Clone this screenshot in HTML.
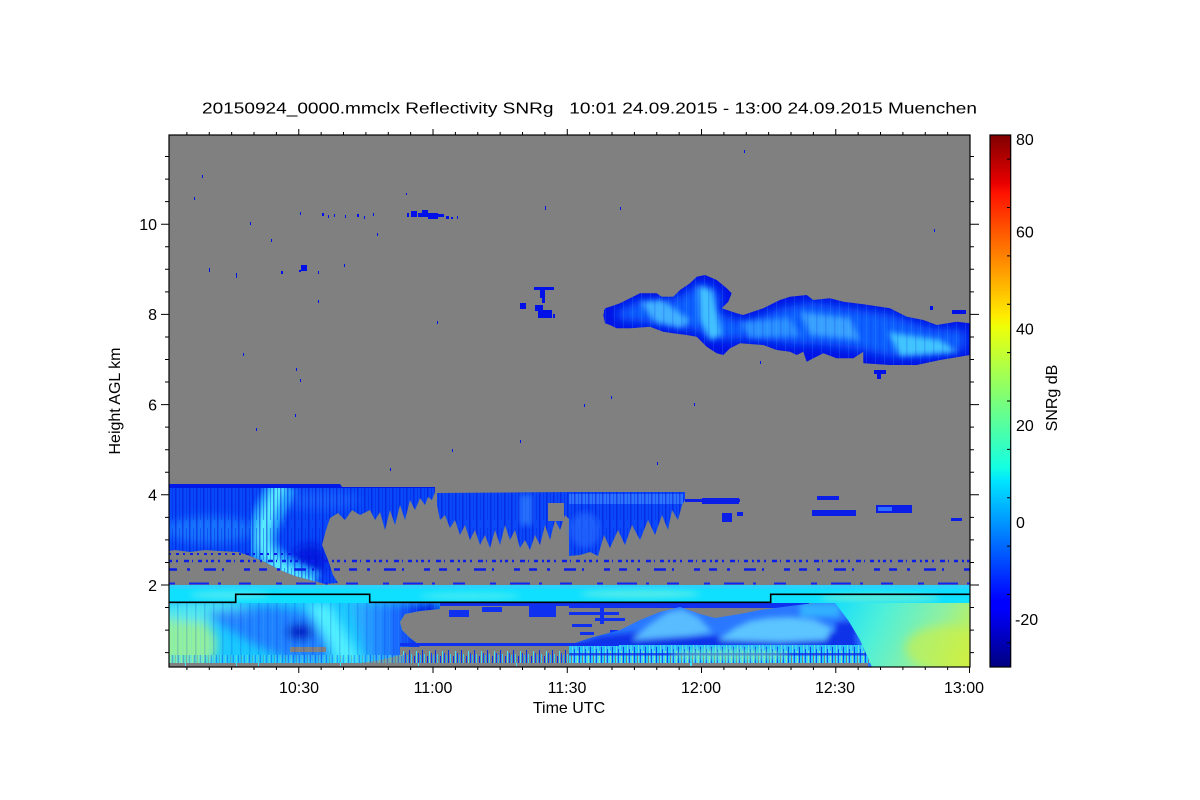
<!DOCTYPE html>
<html><head><meta charset="utf-8"><style>
html,body{margin:0;padding:0;background:#fff;width:1200px;height:800px;overflow:hidden}
svg{display:block}
text{font-family:"Liberation Sans",Arial,sans-serif;font-size:16px;fill:#000}
</style></head><body>
<svg width="1200" height="800" viewBox="0 0 1200 800" xmlns="http://www.w3.org/2000/svg">
<defs>
<linearGradient id="jet" x1="0" y1="1" x2="0" y2="0">
<stop offset="0" stop-color="#000080"/><stop offset="0.11" stop-color="#0000ff"/><stop offset="0.125" stop-color="#0000ff"/>
<stop offset="0.34" stop-color="#00dbff"/><stop offset="0.35" stop-color="#00e5ff"/><stop offset="0.375" stop-color="#14ffe2"/>
<stop offset="0.5" stop-color="#7aff7a"/><stop offset="0.64" stop-color="#eeff08"/><stop offset="0.66" stop-color="#ffec00"/>
<stop offset="0.89" stop-color="#ff1300"/><stop offset="0.91" stop-color="#e80000"/><stop offset="1" stop-color="#800000"/>
</linearGradient>
<linearGradient id="lr" gradientUnits="userSpaceOnUse" x1="340" y1="0" x2="425" y2="0">
<stop offset="0" stop-color="#30c8ff"/><stop offset="0.65" stop-color="#1a70ff"/><stop offset="1" stop-color="#0018e0"/>
</linearGradient>
<linearGradient id="rf" gradientUnits="userSpaceOnUse" x1="830" y1="600" x2="970" y2="667">
<stop offset="0" stop-color="#10dcff"/><stop offset="0.35" stop-color="#50f0d8"/><stop offset="0.7" stop-color="#90f0a0"/><stop offset="1" stop-color="#d0f040"/>
</linearGradient>
<clipPath id="plot"><rect x="169" y="135" width="801" height="532"/></clipPath>
<clipPath id="ci"><polygon points="605,308.3 610,306.7 620,303.3 630,298.3 640,293.3 656.7,293.3 661.7,296.7 673.3,296.7 680,290 690,283.3 696.7,276.7 705,275 716.7,280 726.7,288.3 731.7,293.3 728.3,301.7 721.7,308.3 736.7,313.3 743.3,315 763.3,308.3 780,300 790,296.7 806.7,295 813.3,300 830,298.3 843.3,301.7 863.3,304.3 880,306.7 890,308.3 906.7,316.7 923.3,320 936.7,325 956.7,321.7 970,323.3 970,355 940,360 916.7,365 890,365 863.3,363.3 863.3,351.7 853.3,358.3 836.7,358.3 823.3,353.3 813.3,358.3 806.7,361.7 803.3,351.7 796.7,355 790,351.7 776.7,350 763.3,345 740,343.3 730,348.3 723.3,355 716.7,353.3 706.7,346.7 696.7,336.7 686.7,335 673.3,333.3 663.3,331.7 650,326.7 630,328.3 616.7,328.3 610,325 605,323.3 603.3,315"/></clipPath>
<clipPath id="ll"><polygon points="169,603 440,603 440,609 420,611 405,614 400,622 402,630 410,638 418,644 420,648 400,655 380,660 360,663 169,663"/></clipPath>
<clipPath id="lm"><polygon points="569,645 590,638 620,630 640,620 660,612 680,607 700,614 715,618 740,614 760,610 790,606 815,603 835,603 848,620 860,640 872,667 569,667"/></clipPath>
<clipPath id="ca"><polygon points="169,484 340,484 342,487 435,487 435,492 432,500 428,497 425,505 420,498 415,510 410,500 405,520 400,505 395,525 390,510 385,530 380,512 375,520 370,510 360,515 352,510 345,520 338,513 330,518 326,530 322,545 328,560 333,575 338,583 325,584 310,580 295,576 280,570 265,562 250,556 238,552 220,551 205,550 190,552 175,550 169,551"/></clipPath>
<filter id="b2" x="-20%" y="-20%" width="140%" height="140%"><feGaussianBlur stdDeviation="2"/></filter>
<filter id="b3" x="-20%" y="-20%" width="140%" height="140%"><feGaussianBlur stdDeviation="3"/></filter>
<filter id="b5" x="-20%" y="-20%" width="140%" height="140%"><feGaussianBlur stdDeviation="5"/></filter>
<pattern id="st" width="7" height="40" patternUnits="userSpaceOnUse">
<rect x="0" y="0" width="1.5" height="40" fill="#0008d0" opacity=".45"/><rect x="4" y="8" width="1" height="32" fill="#0018e0" opacity=".35"/>
</pattern>
<pattern id="st2" width="9" height="30" patternUnits="userSpaceOnUse">
<rect x="2" y="0" width="1" height="30" fill="#60c0ff" opacity=".5"/><rect x="6" y="0" width="1.5" height="30" fill="#0010d8" opacity=".5"/>
</pattern>
<pattern id="sp" width="13" height="16" patternUnits="userSpaceOnUse" x="0" y="647">
<rect x="0" y="0" width="13" height="16" fill="#808080"/>
<rect x="0" y="4" width="1" height="12" fill="#40e0ff"/><rect x="2" y="6" width="1" height="10" fill="#1040ff"/>
<rect x="4" y="8" width="1" height="8" fill="#20b8ff"/>
<rect x="6" y="3" width="1" height="13" fill="#0030f0"/><rect x="8" y="7" width="1" height="9" fill="#30d0ff"/>
<rect x="11" y="9" width="1" height="7" fill="#0a2cf0"/>
</pattern>
<pattern id="sp2" width="11" height="18" patternUnits="userSpaceOnUse" x="0" y="645">
<rect x="0" y="0" width="11" height="18" fill="#30c0ff"/>
<rect x="0" y="0" width="1" height="18" fill="#60f0e0"/><rect x="2" y="4" width="1" height="14" fill="#1050ff"/>
<rect x="3" y="0" width="2" height="18" fill="#40e0ff"/><rect x="5" y="6" width="1" height="12" fill="#90f0a0"/>
<rect x="7" y="2" width="1" height="16" fill="#0a40f0"/><rect x="8" y="0" width="2" height="18" fill="#20d8ff"/>
<rect x="10" y="8" width="1" height="10" fill="#808080"/>
</pattern>
</defs>

<rect x="0" y="0" width="1200" height="800" fill="#fff"/>
<rect x="169" y="135" width="801" height="532" fill="#808080"/>

<g clip-path="url(#plot)">
<g fill="#0010e8">
<rect x="202" y="175" width="1" height="3"/><rect x="194" y="197" width="1" height="3"/>
<rect x="250" y="222" width="1" height="3"/><rect x="271" y="239" width="1" height="3"/>
<rect x="300" y="212" width="1" height="3"/><rect x="322" y="213" width="2" height="3"/><rect x="328" y="215" width="1" height="3"/>
<rect x="334" y="214" width="1" height="3"/><rect x="345" y="215" width="1" height="3"/><rect x="357" y="214" width="2" height="3"/>
<rect x="364" y="216" width="1" height="3"/><rect x="373" y="213" width="1" height="3"/>
<rect x="407" y="213" width="2" height="4"/><rect x="411" y="211" width="6" height="6"/><rect x="418" y="213" width="4" height="4"/>
<rect x="422" y="210" width="6" height="7"/><rect x="428" y="213" width="10" height="6"/><rect x="438" y="214" width="6" height="3"/>
<rect x="446" y="216" width="3" height="3"/><rect x="451" y="217" width="2" height="2"/><rect x="457" y="216" width="1" height="3"/>
<rect x="406" y="193" width="1" height="2"/><rect x="545" y="206" width="1" height="4"/>
<rect x="209" y="268" width="1" height="4"/><rect x="236" y="273" width="1" height="5"/><rect x="281" y="271" width="2" height="3"/>
<rect x="301" y="265" width="6" height="6"/><rect x="299" y="270" width="2" height="2"/><rect x="318" y="271" width="1" height="3"/>
<rect x="344" y="264" width="1" height="3"/><rect x="318" y="300" width="1" height="3"/><rect x="377" y="233" width="1" height="3"/>
<rect x="534" y="287" width="20" height="3"/><rect x="540" y="290" width="5" height="8"/><rect x="542" y="298" width="3" height="5"/>
<rect x="520" y="303" width="6" height="6"/><rect x="535" y="305" width="8" height="6"/><rect x="538" y="310" width="14" height="8"/>
<rect x="553" y="314" width="2" height="4"/><rect x="437" y="321" width="1" height="3"/><rect x="243" y="353" width="1" height="3"/>
<rect x="296" y="368" width="1" height="3"/><rect x="300" y="379" width="1" height="3"/><rect x="295" y="414" width="1" height="3"/>
<rect x="256" y="428" width="1" height="3"/><rect x="452" y="449" width="1" height="3"/><rect x="584" y="404" width="1" height="3"/>
<rect x="620" y="207" width="1" height="3"/><rect x="744" y="150" width="1" height="3"/><rect x="934" y="229" width="1" height="3"/>
<rect x="760" y="361" width="1" height="3"/><rect x="806" y="342" width="2" height="3"/><rect x="874" y="370" width="12" height="4"/>
<rect x="877" y="374" width="4" height="5"/><rect x="611" y="396" width="1" height="3"/><rect x="694" y="403" width="1" height="3"/>
<rect x="520" y="440" width="1" height="3"/><rect x="657" y="462" width="1" height="3"/><rect x="390" y="468" width="1" height="3"/>
<rect x="604" y="310" width="1" height="4"/><rect x="952" y="310" width="14" height="4"/><rect x="930" y="306" width="3" height="4"/>
</g>

<g clip-path="url(#ci)">
<rect x="600" y="270" width="372" height="100" fill="#0012e6"/>
<polygon filter="url(#b5)" fill="#0a60ff" points="615,312 640,300 660,302 680,296 700,283 715,288 722,300 715,312 745,322 780,308 810,302 850,308 890,314 930,328 965,330 965,350 930,356 890,357 860,350 820,345 790,344 750,338 725,340 710,338 695,330 660,325 620,320"/>
<g filter="url(#b3)">
<polygon fill="#40b0ff" points="640,302 662,300 690,320 682,328 655,322"/>
<polygon fill="#40c0ff" points="698,286 712,290 722,335 710,340 700,320"/>
<polygon fill="#38a0ff" points="800,312 850,318 860,340 810,335"/>
<polygon fill="#40c4ff" points="888,332 940,340 958,352 900,356"/>
<polygon fill="#2a90ff" points="740,322 790,318 800,336 750,338"/>
</g>
<rect x="600" y="270" width="372" height="100" fill="url(#st2)" opacity=".3"/>
</g>

<g clip-path="url(#ca)">
<rect x="169" y="480" width="270" height="110" fill="#0848f8"/>
<g filter="url(#b5)">
<ellipse cx="210" cy="530" rx="45" ry="14" fill="#1a84ff" opacity=".7"/>
<ellipse cx="320" cy="500" rx="40" ry="10" fill="#2070ff" opacity=".6"/>
<ellipse cx="310" cy="560" rx="18" ry="16" fill="#0014d8" opacity=".8"/>
</g>
<g filter="url(#b3)">
<path d="M282,484 C272,510 256,532 264,550 S292,574 314,586" stroke="#28a8ff" stroke-width="30" fill="none"/>
<path d="M280,484 C270,510 258,532 266,550 S292,574 312,586" stroke="#58ecff" stroke-width="12" fill="none"/>
</g>
<rect x="169" y="484" width="270" height="100" fill="url(#st)"/>
<rect x="169" y="484" width="270" height="4" fill="#0018e8"/>
</g>

<polygon fill="#0a48f8" points="437,493 570,492 570,520 565,515 560,530 555,520 550,540 545,525 540,545 535,535 530,550 525,540 520,548 515,530 510,540 505,525 500,545 495,530 490,548 485,535 480,545 475,530 470,540 465,525 460,535 455,520 450,528 445,515 440,520 437,505"/>
<polygon fill="url(#st)" points="437,493 570,492 570,520 565,515 560,530 555,520 550,540 545,525 540,545 535,535 530,550 525,540 520,548 515,530 510,540 505,525 500,545 495,530 490,548 485,535 480,545 475,530 470,540 465,525 460,535 455,520 450,528 445,515 440,520 437,505"/>
<rect x="520" y="495" width="12" height="30" fill="#3a90ff" opacity=".6" filter="url(#b3)"/>
<rect x="548" y="503" width="16" height="18" fill="#808080"/>
<polygon fill="#0a48f8" points="569,492 685,492 685,500 682,505 678,520 672,510 668,530 662,515 655,535 648,520 640,540 632,525 625,545 618,530 610,548 604,535 598,556 590,552 580,555 569,556"/>
<rect x="569" y="494" width="114" height="10" fill="#3a88ff" opacity=".7"/>
<polygon fill="url(#st)" points="569,492 685,492 685,500 682,505 678,520 672,510 668,530 662,515 655,535 648,520 640,540 632,525 625,545 618,530 610,548 604,535 598,556 590,552 580,555 569,556"/>
<ellipse cx="585" cy="530" rx="15" ry="18" fill="#2a70ff" opacity=".6" filter="url(#b3)"/>

<g fill="#0a1ee8">
<rect x="685" y="499" width="55" height="3"/><rect x="702" y="498" width="37" height="6"/><rect x="722" y="513" width="10" height="9"/>
<rect x="817" y="496" width="22" height="4"/><rect x="812" y="510" width="44" height="6"/><rect x="876" y="505" width="36" height="8"/>
<rect x="951" y="518" width="11" height="3"/><rect x="737" y="512" width="6" height="4"/>
</g>
<rect x="878" y="507" width="14" height="4" fill="#3070ff"/>

<line x1="169" y1="561" x2="970" y2="561" stroke="#0a1ee8" stroke-width="2.5" stroke-dasharray="3 4 2 6 5 3 1 5 4 4 2 3"/>
<line x1="169" y1="569.5" x2="970" y2="569.5" stroke="#0a1ee8" stroke-width="2.5" stroke-dasharray="8 10 3 14 12 6 2 20 6 9"/>
<line x1="169" y1="554" x2="320" y2="554" stroke="#0a1ee8" stroke-width="2" stroke-dasharray="2 5 3 4"/>
<line x1="169" y1="583.5" x2="970" y2="583.5" stroke="#1028f0" stroke-width="2" stroke-dasharray="6 14 20 9 3 18 12 25"/>

<rect x="169" y="585" width="801" height="18" fill="#10e0ff"/>
<rect x="169" y="585" width="801" height="4" fill="#28d4ff"/>
<g filter="url(#b3)" opacity=".7">
<ellipse cx="230" cy="595" rx="40" ry="4" fill="#60ecf0"/>
<ellipse cx="470" cy="596" rx="50" ry="4" fill="#50eef0"/>
<ellipse cx="640" cy="594" rx="60" ry="4" fill="#70f0e0"/>
<ellipse cx="880" cy="598" rx="60" ry="5" fill="#70f0d0"/>
</g>

<g clip-path="url(#ll)">
<rect x="169" y="600" width="275" height="66" fill="#18c8ff"/>
<g filter="url(#b5)">
<ellipse cx="182" cy="645" rx="35" ry="30" fill="#90f0a0"/>
<ellipse cx="205" cy="612" rx="50" ry="10" fill="#50e8f0"/>
<polygon fill="#2070ff" opacity=".8" points="205,612 270,606 310,612 330,648 325,663 290,660 255,645 222,625"/>
<ellipse cx="300" cy="632" rx="13" ry="8" fill="#0010c0"/>
<polygon fill="#50f0ff" points="306,604 330,604 362,663 338,663"/>
<polygon fill="url(#lr)" points="350,603 440,603 440,663 368,663"/>
</g>
<rect x="290" y="647" width="36" height="5" fill="#808080"/>
<rect x="169" y="603" width="275" height="60" fill="url(#st2)" opacity=".3"/>
</g>

<g fill="#1030f0">
<rect x="440" y="603" width="130" height="3"/><rect x="569" y="603" width="240" height="5"/>
<rect x="449" y="610" width="20" height="7"/><rect x="482" y="607" width="20" height="5"/><rect x="529" y="605" width="27" height="12"/>
<rect x="569" y="612" width="50" height="3"/><rect x="595" y="618" width="30" height="3"/><rect x="600" y="606" width="4" height="18"/>
<rect x="572" y="624" width="20" height="3"/><rect x="580" y="632" width="14" height="3"/><rect x="610" y="630" width="8" height="4"/>
</g>

<!-- right field -->
<polygon fill="url(#rf)" points="812,603 970,603 970,667 872,667 866,658 858,648 850,636 842,626 833,616 822,608"/>
<ellipse cx="945" cy="648" rx="40" ry="22" fill="#d0f040" opacity=".6" filter="url(#b5)"/>

<g clip-path="url(#lm)">
<rect x="569" y="603" width="310" height="64" fill="#2a78ff"/>
<g filter="url(#b3)">
<polygon fill="#0a30e8" points="569,645 600,636 640,632 700,636 760,636 830,632 850,636 862,652 569,652"/>
<polygon fill="#58bcff" points="632,640 650,624 668,612 682,609 698,617 712,632 690,636 660,638"/>
<polygon fill="#5cc4ff" points="718,640 735,628 750,621 768,618 790,617 815,620 832,628 826,640 780,642"/>
<rect x="836" y="622" width="20" height="30" fill="#1030e8"/>
<rect x="800" y="603" width="40" height="14" fill="#30b0ff"/>
</g>
<rect x="569" y="645" width="310" height="18" fill="url(#sp2)" opacity=".9"/>
<rect x="569" y="653" width="300" height="2.5" fill="#0a28e8" opacity=".75"/>
<ellipse cx="730" cy="655" rx="60" ry="6" fill="#80f0b0" opacity=".5" filter="url(#b3)"/>
</g>

<rect x="400" y="643" width="170" height="3" fill="#1030f0"/>
<rect x="569" y="643" width="50" height="3" fill="#1030f0"/>
<rect x="400" y="647" width="169" height="16" fill="url(#sp)"/>
<rect x="169" y="655" width="235" height="8" fill="url(#sp2)" opacity=".4"/>
<rect x="169" y="663" width="699" height="4" fill="#808080"/>
<g fill="#40e0ff"><rect x="185" y="663" width="1" height="3"/><rect x="236" y="663" width="1" height="3"/><rect x="258" y="663" width="1" height="3"/><rect x="340" y="663" width="1" height="3"/><rect x="418" y="663" width="1" height="3"/><rect x="516" y="663" width="1" height="3"/><rect x="690" y="663" width="2" height="3"/></g>

<path d="M169,602.3 H235.7 V594.3 H369.7 V602.3 H770.7 V594.3 H970" stroke="#000" stroke-width="1.6" fill="none"/>
</g>

<rect x="169" y="135" width="801" height="532" fill="none" stroke="#000" stroke-width="1.2"/>

<g stroke="#000" stroke-width="1" fill="none">
<path d="M186.9,135V132M209.27,135V132M231.65,135V132M254.02,135V132M276.4,135V132M298.77,135V129M321.15,135V132M343.52,135V132M365.9,135V132M388.27,135V132M410.65,135V132M433.02,135V129M455.4,135V132M477.77,135V132M500.15,135V132M522.52,135V132M544.9,135V132M567.27,135V129M589.65,135V132M612.02,135V132M634.4,135V132M656.77,135V132M679.15,135V132M701.52,135V129M723.9,135V132M746.27,135V132M768.65,135V132M791.02,135V132M813.4,135V132M835.77,135V129M858.15,135V132M880.52,135V132M902.9,135V132M925.27,135V132M947.65,135V132"/>
<path d="M186.9,667V670M209.27,667V670M231.65,667V670M254.02,667V670M276.4,667V670M298.77,667V673M321.15,667V670M343.52,667V670M365.9,667V670M388.27,667V670M410.65,667V670M433.02,667V673M455.4,667V670M477.77,667V670M500.15,667V670M522.52,667V670M544.9,667V670M567.27,667V673M589.65,667V670M612.02,667V670M634.4,667V670M656.77,667V670M679.15,667V670M701.52,667V673M723.9,667V670M746.27,667V670M768.65,667V670M791.02,667V670M813.4,667V670M835.77,667V673M858.15,667V670M880.52,667V670M902.9,667V670M925.27,667V670M947.65,667V670M969.5,667V673"/>
<path d="M165,652.65H169M165,630.1H169M165,607.55H169M161,585H169M165,562.45H169M165,539.9H169M165,517.35H169M161,494.8H169M165,472.25H169M165,449.7H169M165,427.15H169M161,404.6H169M165,382.05H169M165,359.5H169M165,336.95H169M161,314.4H169M165,291.85H169M165,269.3H169M165,246.75H169M161,224.2H169M165,201.65H169M165,179.1H169M165,156.55H169"/>
<path d="M970,652.65H974M970,630.1H974M970,607.55H974M970,585H979M970,562.45H974M970,539.9H974M970,517.35H974M970,494.8H979M970,472.25H974M970,449.7H974M970,427.15H974M970,404.6H979M970,382.05H974M970,359.5H974M970,336.95H974M970,314.4H979M970,291.85H974M970,269.3H974M970,246.75H974M970,224.2H979M970,201.65H974M970,179.1H974M970,156.55H974"/>
</g>

<g text-anchor="end">
<text x="157" y="590.8">2</text><text x="157" y="500.6">4</text><text x="157" y="410.4">6</text><text x="157" y="320.2">8</text><text x="157" y="230">10</text>
</g>
<g text-anchor="middle">
<text x="299" y="693">10:30</text><text x="433" y="693">11:00</text><text x="567" y="693">11:30</text><text x="701" y="693">12:00</text><text x="835" y="693">12:30</text><text x="964" y="693">13:00</text>
<text x="569" y="713">Time UTC</text>
<text transform="translate(120,401) rotate(-90)">Height AGL km</text>
<text transform="translate(1057,398) rotate(-90)">SNRg dB</text>
</g>
<text x="202" y="113.5" textLength="775" lengthAdjust="spacingAndGlyphs">20150924_0000.mmclx Reflectivity SNRg&#160;&#160;&#160;10:01 24.09.2015 - 13:00 24.09.2015 Muenchen</text>

<rect x="990" y="135" width="20.7" height="532" fill="url(#jet)" stroke="#000" stroke-width="1.2"/>
<path d="M1010.7,642.8H1007M1010.7,594.5H1007M1010.7,546.1H1007M1010.7,497.7H1007M1010.7,449.4H1007M1010.7,401H1007M1010.7,352.6H1007M1010.7,304.3H1007M1010.7,255.9H1007M1010.7,207.5H1007M1010.7,159.2H1007" stroke="#000" stroke-width="1"/>
<g>
<text x="1016" y="145">80</text><text x="1016" y="237.6">60</text><text x="1016" y="334.3">40</text><text x="1016" y="431.2">20</text><text x="1016" y="528">0</text><text x="1015" y="624.8">-20</text>
</g>
</svg>
</body></html>
